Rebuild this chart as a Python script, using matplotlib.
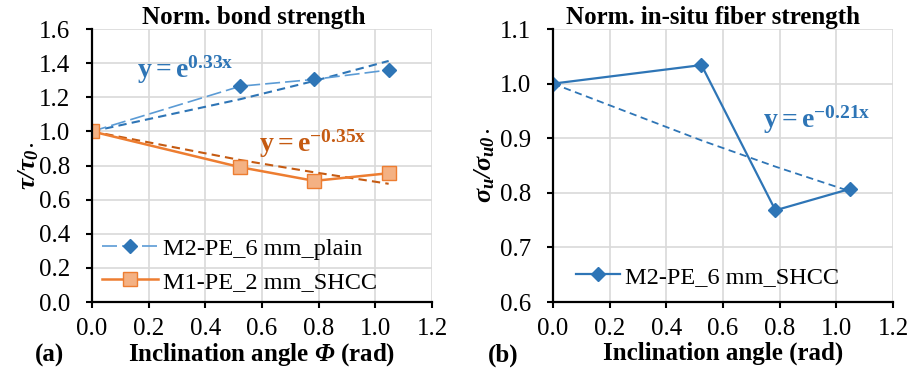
import numpy as np
import matplotlib
matplotlib.use("Agg")
import matplotlib.pyplot as plt

# フォント設定 (Times 相当)
plt.rcParams['font.family'] = ['Liberation Serif', 'DejaVu Serif']
plt.rcParams['mathtext.fontset'] = 'custom'
# 軸ラベルの記号はすべて斜体太字
plt.rcParams['mathtext.rm'] = 'Liberation Serif:italic:bold'
plt.rcParams['mathtext.it'] = 'Liberation Serif:italic:bold'
plt.rcParams['mathtext.bf'] = 'Liberation Serif:bold'

# 傾斜角 (rad)
angle = [0.0, 0.524, 0.785, 1.047]

# (a) 付着強度
bond_plain = [1.0, 1.265, 1.305, 1.36]
bond_shcc = [1.0, 0.79, 0.71, 0.755]
trend_plain = [1.0, 1.189, 1.296, 1.413]
trend_shcc = [1.0, 0.832, 0.760, 0.693]

# (b) 繊維強度
fiber_shcc = [1.0, 1.034, 0.768, 0.807]
trend_fiber = [1.0, 0.896, 0.848, 0.803]

xticks = [0.0, 0.2, 0.4, 0.6, 0.8, 1.0, 1.2]

BLUE = '#2E75B6'
LBLUE = '#5B9BD5'
ORANGE = '#ED7D31'
LORANGE = '#F4B183'
DORANGE = '#C55A11'
GRID = '#D9D9D9'

fig = plt.figure(figsize=(9.07, 3.68), dpi=100)
ax1 = fig.add_axes([0.1014, 0.1793, 0.3749, 0.7418])
ax2 = fig.add_axes([0.6097, 0.1793, 0.3749, 0.7418])


def style_axes(ax):
    ax.grid(True, color=GRID, linewidth=1.2)
    ax.set_axisbelow(True)
    for s in ['top', 'right']:
        ax.spines[s].set_visible(False)
    for s in ['left', 'bottom']:
        ax.spines[s].set_linewidth(1.6)
    ax.tick_params(direction='out', length=4.5, width=1.5, labelsize=18)
    ax.tick_params(axis='x', pad=7)
    ax.tick_params(axis='y', pad=11)
    ax.set_xlim(0, 1.2)
    ax.set_xticks(xticks)
    ax.xaxis.set_major_formatter(matplotlib.ticker.FormatStrFormatter('%.1f'))
    ax.yaxis.set_major_formatter(matplotlib.ticker.FormatStrFormatter('%.1f'))


# ---- (a) ----
style_axes(ax1)
ax1.set_ylim(0, 1.6)
ax1.set_yticks(np.arange(0, 1.61, 0.2))
ax1.plot(angle, trend_plain, color=BLUE, lw=1.5, ls=(0, (4, 2.5)))
ax1.plot(angle, trend_shcc, color=DORANGE, lw=1.5, ls=(0, (4, 2.5)))
ax1.plot(angle, bond_plain, color=LBLUE, lw=1.2, ls=(0, (9, 3)),
         marker='D', ms=7, mfc=BLUE, mec=BLUE, label='M2-PE_6 mm_plain')
ax1.plot(angle, bond_shcc, color=ORANGE, lw=1.8,
         marker='s', ms=10, mfc=LORANGE, mec=ORANGE, mew=1.0, label='M1-PE_2 mm_SHCC')
ax1.text(0.16, 1.36, r'$\mathbf{y = e^{0.33x}}$', color=BLUE, fontsize=20, va='center')
ax1.text(0.59, 0.93, r'$\mathbf{y = e^{-0.35x}}$', color=DORANGE, fontsize=20, va='center')
ax1.legend(loc='center left', bbox_to_anchor=(0.03, 0.134), frameon=False,
           fontsize=17.5, handlelength=2.3, handletextpad=0.2,
           borderpad=0, borderaxespad=0, labelspacing=0.45)
ax1.set_title('Norm. bond strength', fontsize=18, fontweight='bold', pad=3, x=0.475)
ax1.set_xlabel(r'Inclination angle $\Phi$ (rad)', fontsize=18, fontweight='bold', labelpad=1)
ax1.set_ylabel(r'$\tau/\tau_{0\bullet}$', fontsize=19, labelpad=-1)
fig.text(0.055, 0.035, '(a)', fontsize=18, fontweight='bold', ha='center', va='center')

# ---- (b) ----
style_axes(ax2)
ax2.set_ylim(0.6, 1.1)
ax2.set_yticks(np.arange(0.6, 1.101, 0.1))
ax2.plot(angle, trend_fiber, color=BLUE, lw=1.3, ls=(0, (4, 2.5)))
ax2.plot(angle, fiber_shcc, color=BLUE, lw=1.6,
         marker='D', ms=7, mfc=BLUE, mec=BLUE, label='M2-PE_6 mm_SHCC')
ax2.text(0.74, 0.933, r'$\mathbf{y = e^{-0.21x}}$', color=BLUE, fontsize=20, va='center')
ax2.legend(loc='center left', bbox_to_anchor=(0.068, 0.092), frameon=False,
           fontsize=17.5, handlelength=1.8, handletextpad=0.2,
           borderpad=0, borderaxespad=0)
ax2.set_title('Norm. in-situ fiber strength', fontsize=18, fontweight='bold', pad=3, x=0.47)
ax2.set_xlabel('Inclination angle (rad)', fontsize=18, fontweight='bold', labelpad=1)
ax2.set_ylabel(r'$\sigma_u/\sigma_{u0\bullet}$', fontsize=19, labelpad=2)
fig.text(0.555, 0.035, '(b)', fontsize=18, fontweight='bold', ha='center', va='center')

fig.savefig('out.png', dpi=100)
